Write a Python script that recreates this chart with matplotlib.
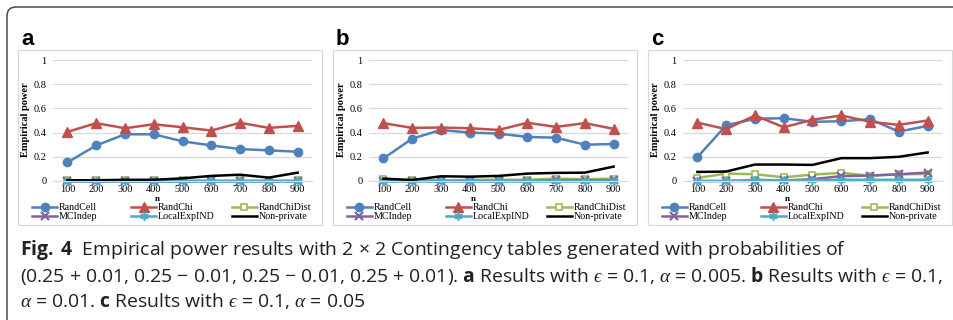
"""Empirical power of private independence tests, three panels with caption."""
import matplotlib
matplotlib.use("Agg")
import matplotlib.pyplot as plt
from matplotlib.patches import Rectangle, FancyBboxPatch
from matplotlib.transforms import IdentityTransform

n_values = [100, 200, 300, 400, 500, 600, 700, 800, 900]
series_names = ["RandCell", "RandChi", "RandChiDist", "MCIndep", "LocalExpIND", "Non-private"]
panel_labels = ["a", "b", "c"]
y_ticks = [0, 0.2, 0.4, 0.6, 0.8, 1]
y_tick_labels = ["0", "0.2", "0.4", "0.6", "0.8", "1"]

# a: epsilon = 0.1, alpha = 0.005
a_randcell = [0.153, 0.294, 0.386, 0.386, 0.328, 0.294, 0.264, 0.253, 0.242]
a_randchi = [0.406, 0.478, 0.436, 0.469, 0.444, 0.417, 0.481, 0.439, 0.456]
a_randchidist = [0.005, 0.005, 0.005, 0.005, 0.005, 0.005, 0.005, 0.005, 0.005]
a_mcindep = [0, 0, 0, 0, 0, 0, 0, 0, 0]
a_localexp = [0, 0, 0, 0, 0, 0, 0, 0, 0]
a_nonprivate = [0.006, 0.006, 0.01, 0.01, 0.022, 0.042, 0.052, 0.028, 0.069]

# b: epsilon = 0.1, alpha = 0.01
b_randcell = [0.186, 0.35, 0.422, 0.40, 0.392, 0.364, 0.358, 0.30, 0.306]
b_randchi = [0.478, 0.439, 0.442, 0.436, 0.422, 0.481, 0.447, 0.478, 0.431]
b_randchidist = [0.02, 0.005, 0.005, 0.01, 0.01, 0.01, 0.02, 0.015, 0.02]
b_mcindep = [0, 0, 0, 0, 0, 0, 0.005, 0.005, 0.005]
b_localexp = [0, 0, 0, 0, 0, 0, 0, 0, 0]
b_nonprivate = [0.019, 0.008, 0.039, 0.036, 0.042, 0.061, 0.067, 0.069, 0.119]

# c: epsilon = 0.1, alpha = 0.05
c_randcell = [0.197, 0.461, 0.514, 0.519, 0.489, 0.494, 0.511, 0.408, 0.456]
c_randchi = [0.483, 0.428, 0.542, 0.444, 0.506, 0.542, 0.489, 0.464, 0.50]
c_randchidist = [0.025, 0.061, 0.056, 0.031, 0.053, 0.067, 0.044, 0.056, 0.058]
c_mcindep = [0, 0, 0, 0.005, 0.015, 0.04, 0.045, 0.055, 0.07]
c_localexp = [0, 0, 0.01, 0.005, 0.005, 0.01, 0.01, 0.01, 0.01]
c_nonprivate = [0.075, 0.078, 0.136, 0.136, 0.133, 0.189, 0.189, 0.2, 0.236]

panels = [
    [a_randcell, a_randchi, a_randchidist, a_mcindep, a_localexp, a_nonprivate],
    [b_randcell, b_randchi, b_randchidist, b_mcindep, b_localexp, b_nonprivate],
    [c_randcell, c_randchi, c_randchidist, c_mcindep, c_localexp, c_nonprivate],
]

styles = [
    dict(color="#4F81BD", marker="o", ms=6, mfc="#4F81BD"),
    dict(color="#C0504D", marker="^", ms=6.5, mfc="#C0504D"),
    dict(color="#9BBB59", marker="s", ms=5, mfc="white", mew=1.2),
    dict(color="#8064A2", marker="x", ms=5.5, mew=1.6),
    dict(color="#4BACC6", marker=(6, 2, 0), ms=6, mew=1.2),
    dict(color="black", marker=None),
]

cap_font = "Open Sans"
serif = "Liberation Serif"

plt.rcParams["mathtext.fontset"] = "custom"
plt.rcParams["mathtext.rm"] = cap_font
plt.rcParams["mathtext.bf"] = cap_font + ":bold"
plt.rcParams["mathtext.it"] = serif + ":italic"
plt.rcParams["mathtext.fallback"] = "stix"

W, H = 954, 320
fig = plt.figure(figsize=(W / 100, H / 100), dpi=100)


def fx(px):
    return px / W


def fy(py):
    return 1 - py / H


# outer rounded frame
frame = FancyBboxPatch((7, -30), 1100, 313 + 30, boxstyle="round,pad=0,rounding_size=9",
                       transform=IdentityTransform(), fill=False, ec="#4a4a4a", lw=1.1)
fig.add_artist(frame)

box_lefts = [18, 333, 648]
plot_lefts = [53, 369, 683]
plot_w = 259
x = list(range(len(n_values)))

for k, (data, label) in enumerate(zip(panels, panel_labels)):
    bl = box_lefts[k]
    pl = plot_lefts[k]
    fig.add_artist(Rectangle((fx(bl), fy(225)), fx(304), 175 / H, transform=fig.transFigure,
                             fill=False, ec="#d9d9d9", lw=0.9))
    fig.text(fx(bl + 3), fy(45), label, fontsize=16, fontweight="bold",
             family="Liberation Sans", ha="left", va="baseline")

    ax = fig.add_axes([fx(pl), fy(181), fx(plot_w), 121 / H])
    lines = []
    for values, name, st in zip(data, series_names, styles):
        ln, = ax.plot(x, values, label=name, lw=1.8, clip_on=False, **st)
        lines.append(ln)
    ax.set_xlim(-0.5, len(n_values) - 0.5)
    ax.set_ylim(0, 1)
    ax.set_yticks(y_ticks)
    ax.set_yticklabels(y_tick_labels)
    ax.set_xticks(x)
    ax.set_xticklabels([str(v) for v in n_values])
    for t in ax.get_xticklabels() + ax.get_yticklabels():
        t.set_family(serif)
        t.set_fontsize(7.4)
    ax.tick_params(length=0)
    ax.tick_params(axis="y", pad=4.5)
    ax.tick_params(axis="x", pad=3)
    ax.grid(axis="y", color="#d9d9d9", lw=0.9)
    ax.set_axisbelow(True)
    for side in ["left", "right", "top"]:
        ax.spines[side].set_visible(False)
    ax.spines["bottom"].set_color("#d9d9d9")
    ax.patch.set_alpha(0)

    fig.text(fx(pl - 27), fy(120), "Empirical power", rotation=90, fontsize=7.5,
             fontweight="bold", family=serif, ha="center", va="center")
    fig.text(fx(pl + plot_w / 2 - 25), fy(199), "n", fontsize=6.5, fontweight="bold",
             family=serif, ha="center", va="center")

    for j, off in enumerate([14, 113, 214]):
        fig.legend([lines[j], lines[j + 3]], [series_names[j], series_names[j + 3]],
                   loc="upper left", bbox_to_anchor=(fx(bl + off), fy(203)),
                   frameon=False, borderpad=0, borderaxespad=0, handlelength=2.5,
                   handletextpad=0.2, labelspacing=0.0,
                   prop=dict(family=serif, size=7.2))

cap_lines = [
    r"$\mathbf{Fig.\ 4}$  Empirical power results with 2 × 2 Contingency tables generated with probabilities of",
    r"(0.25 + 0.01, 0.25 − 0.01, 0.25 − 0.01, 0.25 + 0.01). $\mathbf{a}$ Results with $ϵ$ = 0.1, $\alpha$ = 0.005. "
    r"$\mathbf{b}$ Results with $ϵ$ = 0.1,",
    r"$\alpha$ = 0.01. $\mathbf{c}$ Results with $ϵ$ = 0.1, $\alpha$ = 0.05",
]
cap_texts = []
for yy, s in zip([255, 282, 307], cap_lines):
    cap_texts.append(fig.text(fx(20), fy(yy), s, fontsize=12, family=cap_font, color="#231f20",
                              ha="left", va="baseline"))

# fit the caption size so the long second line spans the same width as the reference
renderer = fig.canvas.get_renderer()
w2 = cap_texts[1].get_window_extent(renderer).width
size = 12 * 920 / w2
for t in cap_texts:
    t.set_fontsize(size)

fig.savefig("out.png", dpi=100)
